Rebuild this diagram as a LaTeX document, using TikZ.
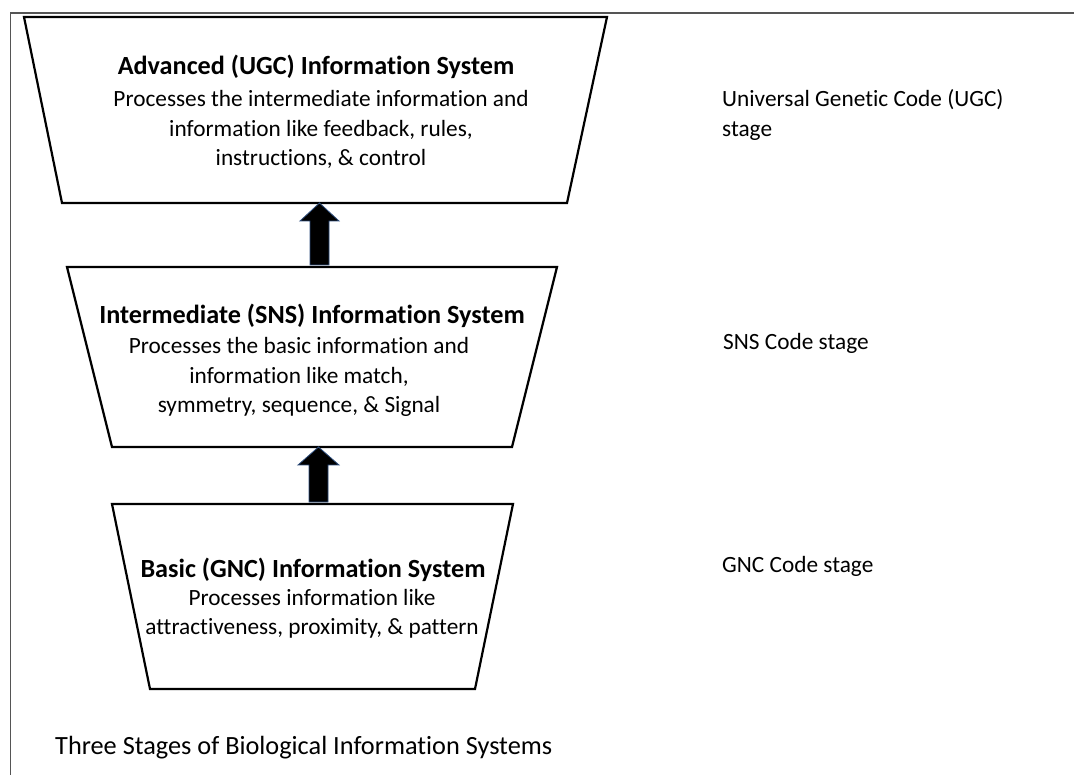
\documentclass[tikz,border=0pt]{standalone}
\usepackage{fontspec}
\setmainfont{Carlito}[Ligatures=CommonOff]
\usetikzlibrary{calc}
\definecolor{framegray}{HTML}{555555}
\definecolor{arrowedge}{HTML}{2F4F7F}
\begin{document}
\begin{tikzpicture}[x=1pt,y=-1pt,
  trap/.style={draw=black, line width=2.2pt, line join=miter},
  blockarrow/.style={fill=black, draw=arrowedge, line width=0.8pt, line join=miter},
  titletext/.style={font=\fontsize{26.2}{30}\selectfont\bfseries, inner sep=0pt},
  bodytext/.style={font=\fontsize{23.3}{29.5}\selectfont, align=center, inner sep=0pt},
  sidetext/.style={font=\fontsize{23.3}{30}\selectfont, align=left, anchor=west, inner sep=0pt},
  frameline/.style={draw=framegray, line width=1.3pt}]
\useasboundingbox (0,0) rectangle (1074,775);
\fill[white] (0,0) rectangle (1074,775);
\draw[frameline] (10.5,775) -- (10.5,13) -- (1074,13);

% trapezoids
\draw[trap] (24,17) -- (607,17) -- (567,203) -- (62,203) -- cycle;
\draw[trap] (67,267) -- (557,267) -- (512,447) -- (112,447) -- cycle;
\draw[trap] (112,504) -- (513,504) -- (475,689) -- (150,689) -- cycle;

% arrow anchor points
\coordinate (topbot) at (319.5,203);
\coordinate (midtop) at (319.5,266);
\coordinate (midbot) at (318.5,447);
\coordinate (bottop) at (318.5,503);

% block arrows
\draw[blockarrow] (topbot) -- ($(topbot)+(19.5,18)$) -- ($(topbot)+(9.5,18)$) -- ($(midtop)+(9.5,-1)$)
  -- ($(midtop)+(-9.5,-1)$) -- ($(topbot)+(-9.5,18)$) -- ($(topbot)+(-19.5,18)$) -- cycle;
\draw[blockarrow] (midbot) -- ($(midbot)+(20.5,18)$) -- ($(midbot)+(9.5,18)$) -- ($(bottop)+(9.5,-1)$)
  -- ($(bottop)+(-9.5,-1)$) -- ($(midbot)+(-9.5,18)$) -- ($(midbot)+(-20.5,18)$) -- cycle;

% texts
\node[titletext] (t1) at (316,67) {Advanced (UGC) Information System};
\node[bodytext] (b1) at (321,129.5) {Processes the intermediate information and\\information like feedback, rules,\\instructions, \& control};
\node[titletext] (t2) at (312,316) {Intermediate (SNS) Information System};
\node[bodytext] (b2) at (299,377) {Processes the basic information and\\information like match,\\symmetry, sequence, \& Signal};
\node[titletext] (t3) at (313,570) {Basic (GNC) Information System};
\node[bodytext] (b3) at (312,614) {Processes information like\\attractiveness, proximity, \& pattern};

\node[sidetext] (s1) at (722,115) {Universal Genetic Code (UGC)\\stage};
\node[sidetext] (s2) at (723,343) {SNS Code stage};
\node[sidetext] (s3) at (722,566) {GNC Code stage};

\node[sidetext, font=\fontsize{26.3}{30}\selectfont] (cap) at (55,748) {Three Stages of Biological Information Systems};
\end{tikzpicture}
\end{document}
